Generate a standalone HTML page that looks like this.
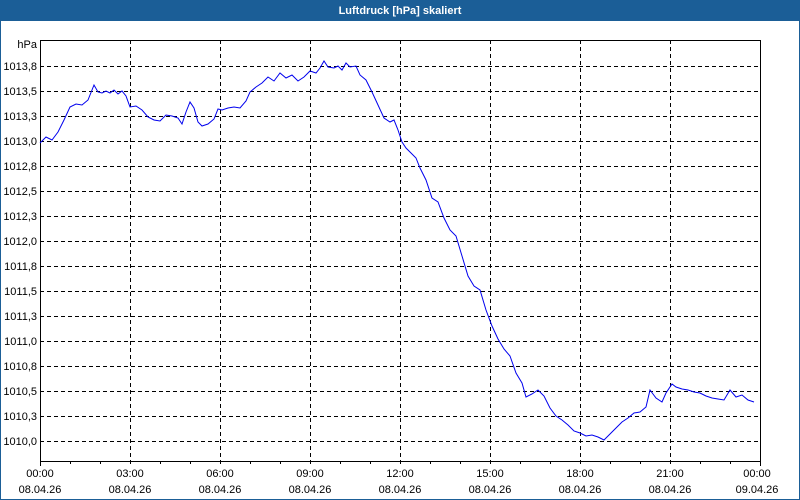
<!DOCTYPE html>
<html><head><meta charset="utf-8"><style>
html,body{margin:0;padding:0;background:#fff;}
svg{display:block;}
text{font-family:"Liberation Sans",sans-serif;font-size:11px;fill:#000;}
</style></head><body>
<svg width="800" height="500" xmlns="http://www.w3.org/2000/svg">
<rect x="0" y="0" width="800" height="500" fill="#fff"/>
<rect x="0" y="0" width="800" height="21" fill="#1b5e97"/>
<text x="400" y="14" text-anchor="middle" style="fill:#fff;font-weight:bold;font-size:11px">Luftdruck [hPa] skaliert</text>
<rect x="0.5" y="20.5" width="799" height="479" fill="none" stroke="#1b5e97" stroke-width="1"/>
<g stroke="#000" stroke-width="1" stroke-dasharray="4,3" shape-rendering="crispEdges">
<line x1="40" x2="760" y1="66.5" y2="66.5"/><line x1="40" x2="760" y1="91.5" y2="91.5"/><line x1="40" x2="760" y1="116.5" y2="116.5"/><line x1="40" x2="760" y1="141.5" y2="141.5"/><line x1="40" x2="760" y1="166.5" y2="166.5"/><line x1="40" x2="760" y1="191.5" y2="191.5"/><line x1="40" x2="760" y1="216.5" y2="216.5"/><line x1="40" x2="760" y1="241.5" y2="241.5"/><line x1="40" x2="760" y1="266.5" y2="266.5"/><line x1="40" x2="760" y1="291.5" y2="291.5"/><line x1="40" x2="760" y1="316.5" y2="316.5"/><line x1="40" x2="760" y1="341.5" y2="341.5"/><line x1="40" x2="760" y1="366.5" y2="366.5"/><line x1="40" x2="760" y1="391.5" y2="391.5"/><line x1="40" x2="760" y1="416.5" y2="416.5"/><line x1="40" x2="760" y1="441.5" y2="441.5"/>
<line x1="130.5" x2="130.5" y1="40" y2="466"/><line x1="220.5" x2="220.5" y1="40" y2="466"/><line x1="310.5" x2="310.5" y1="40" y2="466"/><line x1="400.5" x2="400.5" y1="40" y2="466"/><line x1="490.5" x2="490.5" y1="40" y2="466"/><line x1="580.5" x2="580.5" y1="40" y2="466"/><line x1="670.5" x2="670.5" y1="40" y2="466"/>
</g>
<g stroke="#000" stroke-width="1" shape-rendering="crispEdges">
<rect x="40.5" y="40.5" width="720" height="421" fill="none"/>
<path d="M40.5 461v5M70.5 461v3M100.5 461v3M160.5 461v3M190.5 461v3M250.5 461v3M280.5 461v3M340.5 461v3M370.5 461v3M430.5 461v3M460.5 461v3M520.5 461v3M550.5 461v3M610.5 461v3M640.5 461v3M700.5 461v3M730.5 461v3M760.5 461v5"/>
</g>
<g text-anchor="end">
<text x="37" y="48">hPa</text>
<text x="37" y="70">1013,8</text><text x="37" y="95">1013,5</text><text x="37" y="120">1013,3</text><text x="37" y="145">1013,0</text><text x="37" y="170">1012,8</text><text x="37" y="195">1012,5</text><text x="37" y="220">1012,3</text><text x="37" y="245">1012,0</text><text x="37" y="270">1011,8</text><text x="37" y="295">1011,5</text><text x="37" y="320">1011,3</text><text x="37" y="345">1011,0</text><text x="37" y="370">1010,8</text><text x="37" y="395">1010,5</text><text x="37" y="420">1010,3</text><text x="37" y="445">1010,0</text>
</g>
<g text-anchor="middle">
<text x="40" y="477">00:00</text><text x="40" y="493">08.04.26</text>
<text x="130" y="477">03:00</text><text x="130" y="493">08.04.26</text>
<text x="220" y="477">06:00</text><text x="220" y="493">08.04.26</text>
<text x="310" y="477">09:00</text><text x="310" y="493">08.04.26</text>
<text x="400" y="477">12:00</text><text x="400" y="493">08.04.26</text>
<text x="490" y="477">15:00</text><text x="490" y="493">08.04.26</text>
<text x="580" y="477">18:00</text><text x="580" y="493">08.04.26</text>
<text x="670" y="477">21:00</text><text x="670" y="493">08.04.26</text>
<text x="757" y="477">00:00</text><text x="757" y="493">09.04.26</text>
</g>
<polyline fill="none" stroke="#0000ee" stroke-width="1" points="40,143 46,137 52,140 58,132 64,120 70,107 76,104 82,105 88,100 94,85 98,92 102,93 106,91 110,93 114,90 118,94 122,91 126,96 130,107 136,106 142,110 148,117 154,120 160,121 166,115 172,116 178,118 182,124 186,112 190,102 194,108 198,122 202,126 208,124 214,119 218,109 222,110 228,108 234,107 240,108 246,101 250,92 256,87 262,83 268,77 274,81 280,73 286,78 292,75 298,81 304,77 310,71 316,73 320,68 324,61 328,67 334,68 338,66 342,70 346,63 350,67 356,66 360,75 366,80 372,92 378,105 384,118 390,122 394,120 398,130 402,142 406,148 412,154 416,158 420,168 426,180 432,198 438,202 444,218 450,230 456,236 462,256 468,276 474,286 480,290 486,310 492,326 498,339 504,349 510,356 516,373 522,383 526,397 532,394 538,390 544,396 550,408 556,416 562,420 568,425 574,431 580,433 586,436 592,435 598,437 604,440 610,434 616,428 622,422 628,418 634,413 640,412 646,407 650,390 656,398 662,402 666,393 672,384 676,387 682,389 688,390 694,392 700,393 706,396 712,398 718,399 724,400 730,390 736,397 742,395 748,400 754,402"/>
</svg>
</body></html>
